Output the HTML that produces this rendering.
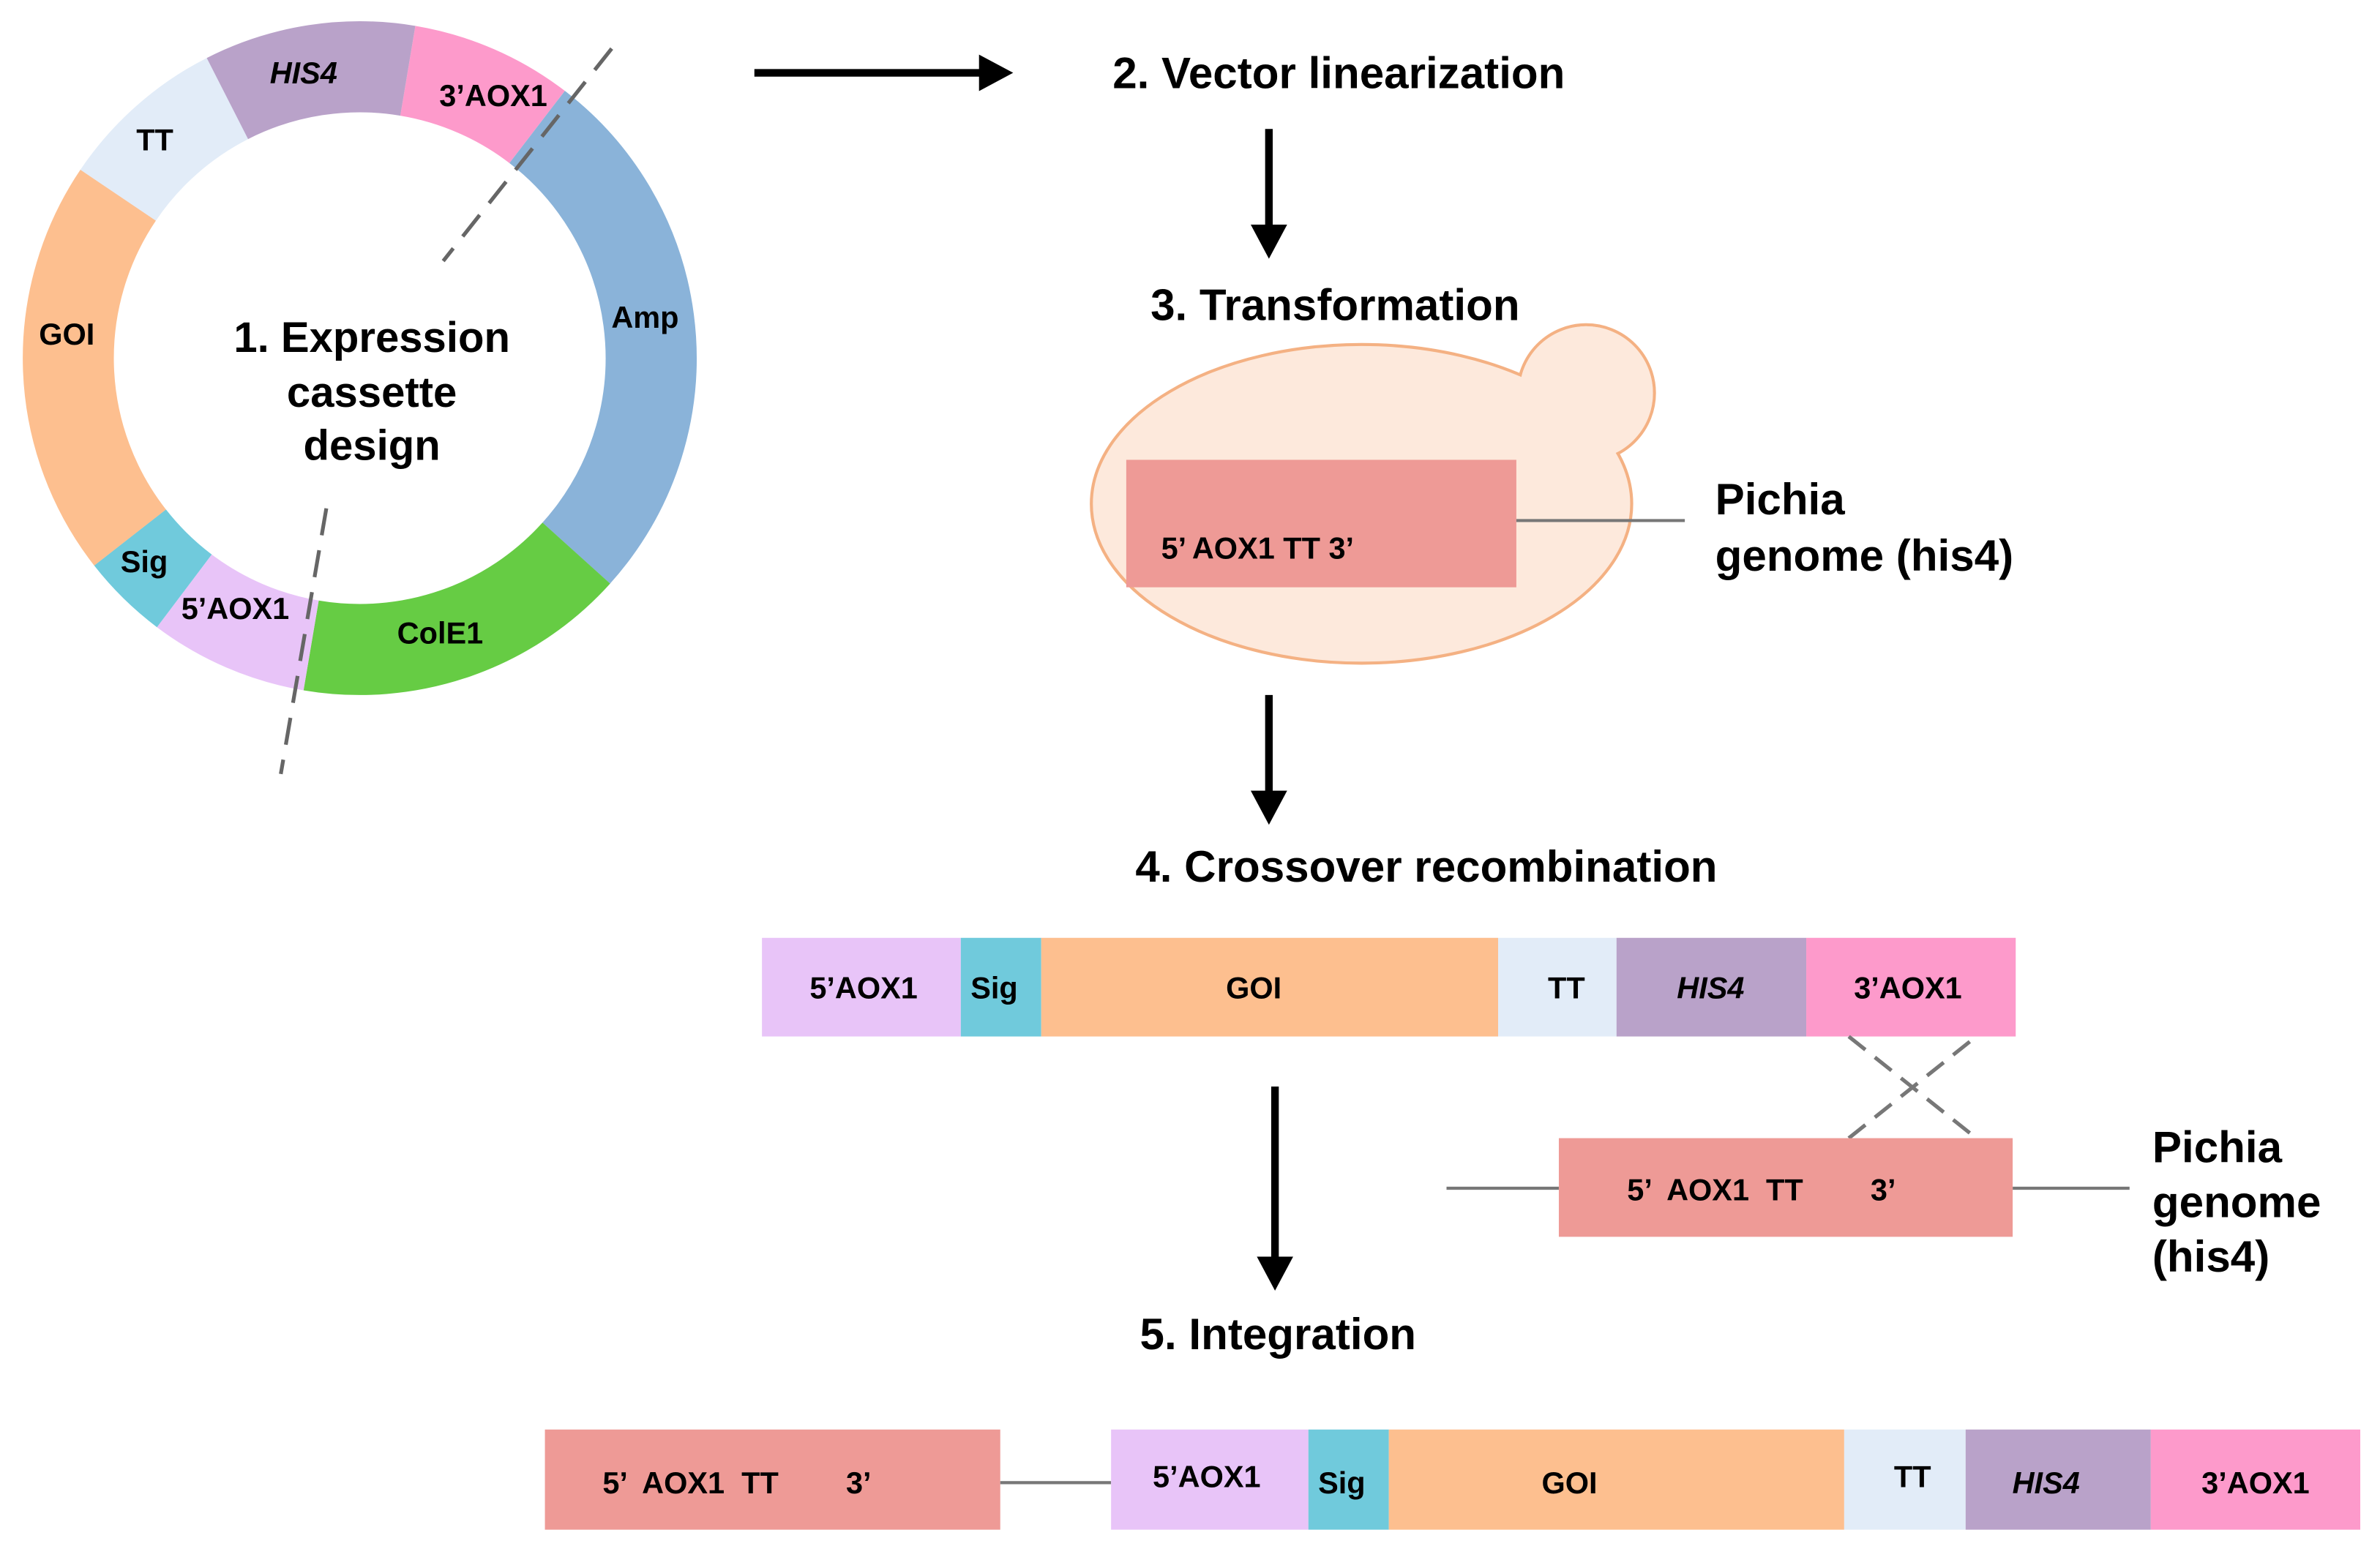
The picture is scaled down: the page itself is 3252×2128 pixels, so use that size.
<!DOCTYPE html>
<html><head><meta charset="utf-8"><style>
html,body{margin:0;padding:0;background:#fff;}
svg{display:block}
text{font-family:"Liberation Sans",Arial,sans-serif;font-weight:bold;fill:#000}
</style></head><body>
<svg width="3252" height="2128" viewBox="0 0 1568 1026" preserveAspectRatio="none" xmlns="http://www.w3.org/2000/svg">
<defs>
<marker id="ah" markerWidth="6" markerHeight="6" refX="3" refY="3" orient="auto" markerUnits="strokeWidth">
<path d="M0,0.6 L4.5,3 L0,5.4 z" fill="#000"/></marker>
</defs>
<g fill="none" stroke-width="60">
<circle cx="237" cy="236" r="192" stroke="#fd9acb" stroke-dasharray="93.8 2000" transform="rotate(279.5 237 236)"/>
<circle cx="237" cy="236" r="192" stroke="#8ab3d9" stroke-dasharray="316.7 2000" transform="rotate(307.5 237 236)"/>
<circle cx="237" cy="236" r="192" stroke="#66cc44" stroke-dasharray="193.0 2000" transform="rotate(42 237 236)"/>
<circle cx="237" cy="236" r="192" stroke="#e8c4f8" stroke-dasharray="91.8 2000" transform="rotate(99.6 237 236)"/>
<circle cx="237" cy="236" r="192" stroke="#70cadc" stroke-dasharray="50.3 2000" transform="rotate(127 237 236)"/>
<circle cx="237" cy="236" r="192" stroke="#fdbf8f" stroke-dasharray="241.3 2000" transform="rotate(142 237 236)"/>
<circle cx="237" cy="236" r="192" stroke="#e2ecf8" stroke-dasharray="97.2 2000" transform="rotate(214 237 236)"/>
<circle cx="237" cy="236" r="192" stroke="#b9a2c9" stroke-dasharray="122.3 2000" transform="rotate(243 237 236)"/>
</g>
<g stroke="#666" stroke-width="2.5" stroke-dasharray="18 10" fill="none">
<line x1="403" y1="32" x2="292" y2="172"/>
<line x1="215" y1="335" x2="185" y2="510"/>
</g>
<g font-size="20">
<text x="200" y="55" text-anchor="middle" font-style="italic">HIS4</text>
<text x="325" y="70" text-anchor="middle">3’AOX1</text>
<text x="102" y="99" text-anchor="middle">TT</text>
<text x="44" y="227" text-anchor="middle">GOI</text>
<text x="425" y="216" text-anchor="middle">Amp</text>
<text x="95" y="377" text-anchor="middle">Sig</text>
<text x="155" y="408" text-anchor="middle">5’AOX1</text>
<text x="290" y="424" text-anchor="middle">ColE1</text>
</g>
<g font-size="28" text-anchor="middle">
<text x="245" y="232">1. Expression</text>
<text x="245" y="268">cassette</text>
<text x="245" y="303">design</text>
</g>
<g stroke="#000" stroke-width="5" marker-end="url(#ah)">
<line x1="497" y1="48" x2="660" y2="48"/>
<line x1="836" y1="85" x2="836" y2="163"/>
<line x1="836" y1="458" x2="836" y2="536"/>
<line x1="840" y1="716" x2="840" y2="843"/>
</g>
<g font-size="29">
<text x="733" y="58">2. Vector linearization</text>
<text x="758" y="211">3. Transformation</text>
<text x="748" y="581">4. Crossover recombination</text>
<text x="751" y="889">5. Integration</text>
</g>
<circle cx="1045" cy="259" r="45" fill="#fde9dc" stroke="#f4b183" stroke-width="2"/>
<ellipse cx="897" cy="332" rx="178" ry="105" fill="#fde9dc" stroke="#f4b183" stroke-width="2"/>
<circle cx="1045" cy="259" r="44" fill="#fde9dc"/>
<rect x="742" y="303" width="257" height="84" fill="#ee9a96"/>
<text x="765" y="368" font-size="20">5’  AOX1  TT 3’</text>
<line x1="999" y1="343" x2="1110" y2="343" stroke="#777" stroke-width="2"/>
<g font-size="29"><text x="1130" y="339">Pichia</text><text x="1130" y="376">genome (his4)</text></g>
<rect x="502" y="618" width="131" height="65" fill="#e8c4f8"/>
<rect x="633" y="618" width="53" height="65" fill="#70cadc"/>
<rect x="686" y="618" width="301" height="65" fill="#fdbf8f"/>
<rect x="987" y="618" width="78" height="65" fill="#e2ecf8"/>
<rect x="1065" y="618" width="125" height="65" fill="#b9a2c9"/>
<rect x="1190" y="618" width="138" height="65" fill="#fd9acb"/>
<g font-size="20" text-anchor="middle">
<text x="569" y="658">5’AOX1</text><text x="655" y="658">Sig</text><text x="826" y="658">GOI</text>
<text x="1032" y="658">TT</text><text x="1127" y="658" font-style="italic">HIS4</text><text x="1257" y="658">3’AOX1</text>
</g>
<g stroke="#777" stroke-width="2.5" stroke-dasharray="14 8">
<line x1="1218" y1="750" x2="1302" y2="683"/><line x1="1218" y1="683" x2="1302" y2="750"/>
</g>
<line x1="953" y1="783" x2="1027" y2="783" stroke="#777" stroke-width="2"/>
<line x1="1326" y1="783" x2="1403" y2="783" stroke="#777" stroke-width="2"/>
<rect x="1027" y="750" width="299" height="65" fill="#ee9a96"/>
<text x="1072" y="791" font-size="20" xml:space="preserve">5’  AOX1  TT        3’</text>
<g font-size="29"><text x="1418" y="766">Pichia</text><text x="1418" y="802">genome</text><text x="1418" y="838">(his4)</text></g>
<rect x="359" y="942" width="300" height="66" fill="#ee9a96"/>
<text x="397" y="984" font-size="20" xml:space="preserve">5’  AOX1  TT        3’</text>
<line x1="659" y1="977" x2="732" y2="977" stroke="#777" stroke-width="2"/>
<rect x="732" y="942" width="130" height="66" fill="#e8c4f8"/>
<rect x="862" y="942" width="53" height="66" fill="#70cadc"/>
<rect x="915" y="942" width="300" height="66" fill="#fdbf8f"/>
<rect x="1215" y="942" width="80" height="66" fill="#e2ecf8"/>
<rect x="1295" y="942" width="122" height="66" fill="#b9a2c9"/>
<rect x="1417" y="942" width="138" height="66" fill="#fd9acb"/>
<g font-size="20" text-anchor="middle">
<text x="795" y="980">5’AOX1</text><text x="884" y="984">Sig</text><text x="1034" y="984">GOI</text>
<text x="1260" y="980">TT</text><text x="1348" y="984" font-style="italic">HIS4</text><text x="1486" y="984">3’AOX1</text>
</g>
</svg>
</body></html>
